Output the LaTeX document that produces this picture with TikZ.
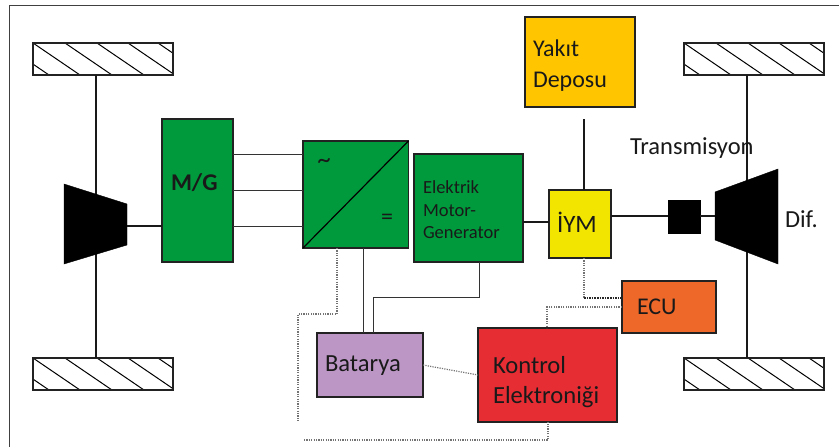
\documentclass[tikz,border=0pt]{standalone}
\usepackage{fontspec}
\setmainfont{Carlito}
\usetikzlibrary{calc}
\definecolor{grn}{HTML}{009A3D}
\definecolor{yak}{HTML}{FFC600}
\definecolor{iym}{HTML}{F2E600}
\definecolor{ecu}{HTML}{EE682A}
\definecolor{kon}{HTML}{E62D33}
\definecolor{bat}{HTML}{BC97C6}
\definecolor{edge}{HTML}{222222}
\tikzset{
  box/.style={draw=edge,line width=1.1pt,inner sep=0pt,outer sep=0pt,align=left,text=black!90},
  hatchbar/.style={draw=edge,line width=1.1pt,inner sep=0pt,outer sep=0pt,minimum width=140pt,minimum height=32pt},
  hatchline/.style={line width=1pt,draw=black},
  blk/.style={fill=black,draw=black,line width=0.4pt,inner sep=0pt,outer sep=0pt},
  thick line/.style={line width=1.3pt,draw=black!90},
  thin line/.style={line width=.9pt,draw=black!80},
  dots/.style={line width=1.2pt,draw=black!55,dash pattern=on 1.2pt off 1.2pt},
  dotsdark/.style={line width=1.8pt,draw=black!85,dash pattern=on 1.6pt off 1pt},
  lbl/.style={inner sep=0pt,outer sep=0pt,align=left,text=black!90},
}
\newcommand{\wheelbar}[3]{%
  \node[hatchbar,anchor=north west] (#1) at (#2,#3) {};
  \begin{scope}
    \clip (#1.north west) rectangle (#1.south east);
    \foreach \o in {-31,0,32,64,95,125}
      \draw[hatchline] ($(#1.north west)+(\o,0)$) -- ++(47,32);
  \end{scope}
  \draw[draw=edge,line width=1.1pt] (#1.north west) rectangle (#1.south east);
}
\begin{document}
\begin{tikzpicture}[x=1pt,y=-1pt,font=\fontsize{14}{17}\selectfont]
\useasboundingbox (0,0) rectangle (839,447);
\fill[white] (0,0) rectangle (839,447);
% frame
\coordinate (fa) at (9,447); \coordinate (fb) at (9,5.5); \coordinate (fc) at (839,5.5);
\draw[line width=.9pt,draw=black!75] (fa) -- (fb) -- (fc);
% wheels
\wheelbar{wtl}{33}{43}
\wheelbar{wbl}{33}{358}
\wheelbar{wtr}{684}{43}
\wheelbar{wbr}{684}{358}
% axles
\draw[thick line] (wtl.south -| 96,0) -- (wbl.north -| 96,0);
\draw[thick line] (wtr.south -| 747,0) -- (wbr.north -| 747,0);
% boxes
\node[box,fill=grn,anchor=north west,minimum width=71pt,minimum height=143pt] (mg) at (162,119) {};
\node[lbl,font=\fontsize{24}{26}\selectfont\bfseries,anchor=base west] (mgt) at (171,190) {M/G};
\node[box,fill=grn,anchor=north west,minimum width=105.5pt,minimum height=107pt] (inv) at (303,141) {};
\node[box,fill=grn,anchor=north west,minimum width=109pt,minimum height=108pt] (em) at (414,154) {};
\node[lbl,anchor=north west,font=\fontsize{18.5}{22.5}\selectfont] (emt) at (423,181) {Elektrik\\Motor-\\Generator};
\node[box,fill=iym,anchor=north west,minimum width=62pt,minimum height=68pt] (iym) at (549,190) {};
\node[lbl,anchor=base west,font=\fontsize{25}{28}\selectfont] (iymt) at (557,232) {İYM};
\node[box,fill=yak,anchor=north west,minimum width=110pt,minimum height=90pt] (yak) at (525,17) {};
\node[lbl,anchor=north west,font=\fontsize{24}{30.5}\selectfont] (yakt) at (533,40) {Yakıt\\Deposu};
\node[box,fill=bat,anchor=north west,minimum width=106pt,minimum height=64pt] (bat) at (317,333) {};
\node[lbl,anchor=base west,font=\fontsize{24.6}{28}\selectfont] (batt) at (325,371) {Batarya};
\node[box,fill=kon,anchor=north west,minimum width=139pt,minimum height=94pt] (kon) at (478,328) {};
\node[lbl,anchor=north west,font=\fontsize{24.6}{30}\selectfont] (kont) at (493,356) {Kontrol\\Elektroniği};
\node[box,fill=ecu,anchor=north west,minimum width=94pt,minimum height=52pt] (ecu) at (622,281) {};
\node[lbl,anchor=base west,font=\fontsize{24}{27}\selectfont] (ecut) at (637,314) {ECU};
% inverter diagonal + symbols
\draw[line width=1.2pt,draw=black] (inv.south west) -- (inv.north east);
\node[lbl,font=\fontsize{27}{27}\selectfont] (tilde) at (324,164) {\textasciitilde};
\node[lbl,font=\fontsize{24}{24}\selectfont] (eq) at (387,219) {=};
% differentials
\filldraw[black] (64,184) -- (127,204) -- (127,245) -- (64,264) -- cycle;
\filldraw[black] (715,192) -- (778,169) -- (778,264) -- (715,240) -- cycle;
\coordinate (dlr) at (127,226);
\coordinate (drl) at (715,216);
\node[blk,anchor=north west,minimum width=32pt,minimum height=33pt] (sq) at (668,200) {};
% power lines
\draw[thick line] (dlr) -- (dlr -| mg.west);
\foreach \y in {154,190,226} \draw[thin line] (mg.east |- 0,\y) -- (inv.west |- 0,\y);
\draw[thick line] (em.east |- 0,222) -- (iym.west |- 0,222);
\draw[thick line] (iym.east |- 0,216) -- (sq.west |- 0,216);
\draw[thick line] (sq.east |- 0,216) -- (drl);
\coordinate (fuel) at (584,119);
\draw[thick line] (fuel) -- (fuel |- iym.north);
\draw[thin line] (inv.south -| 363,0) -- (bat.north -| 363,0);
\draw[thin line] (em.south -| 479,0) -- (479,297.5) -- (373,297.5) -- (bat.north -| 373,0);
% dotted control lines
\coordinate (d1) at (298,421); \coordinate (d2) at (304,440);
\draw[dots] (inv.south -| 337,0) -- (337,314) -- (298,314) -- (d1);
\draw[dots] (d2) -- (548,440) -- (kon.south -| 548,0);
\draw[dots] (ecu.west |- 0,307) -- (547,307) -- (kon.north -| 547,0);
\draw[dots] (iym.south -| 584,0) -- (584,298);
\draw[dotsdark] (584,298) -- (ecu.west |- 0,298);
\draw[dots] (bat.east |- 0,365) -- (kon.west |- 0,375);
% labels
\node[lbl,anchor=base west,font=\fontsize{24.5}{28}\selectfont] (tr) at (630,154) {Transmisyon};
\node[lbl,anchor=base west,font=\fontsize{24.5}{28}\selectfont] (dif) at (785,227) {Dif.};
\end{tikzpicture}
\end{document}
